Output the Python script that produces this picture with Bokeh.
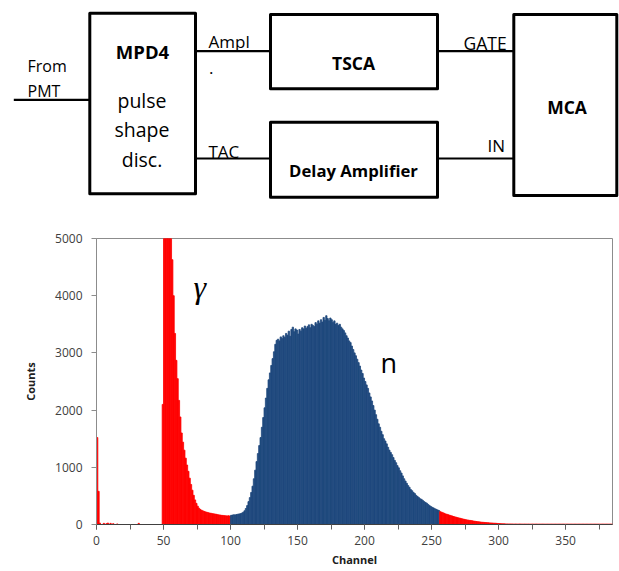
import numpy as np
from bokeh.plotting import figure
from bokeh.models import Range1d, FixedTicker, SingleIntervalTicker, Label
from bokeh.embed import file_html
from bokeh.resources import INLINE

# ---------------- data (counts per channel) ----------------
gamma_low_start = 0
gamma_low = [1520, 580, 25, 0, 0, 20, 0, 15, 25, 0,
             20, 0, 15, 0, 0, 10, 0, 0, 0, 0,
             0, 0, 0, 0, 0, 0, 0, 0, 0, 0,
             0, 20, 0, 0, 0, 0, 0, 0, 0, 0,
             0, 0, 0, 0, 0, 0, 0, 0, 0]
gamma_peak_start = 49
gamma_peak = [2100,
              5600, 6900, 7600, 7300, 6500, 5500, 4630, 4000, 3340, 2870,
              2550, 2170, 1880, 1600, 1440, 1300, 1160, 1040, 930, 810,
              700, 600, 510, 430, 370, 320, 285, 262, 248, 238,
              228, 220, 212, 206, 200, 196, 190, 186, 182, 178,
              172, 168, 164, 160, 158, 155, 152, 150, 153, 148]
neutron_start = 100
neutron = [160, 165, 170, 168, 175, 180, 185, 190, 200, 215,
           240, 280, 330, 400, 470, 560, 670, 800, 950, 1100,
           1240, 1380, 1520, 1700, 1870, 2040, 2210, 2380, 2530, 2650,
           2780, 2900, 3020, 3150, 3220, 3240, 3210, 3280, 3250, 3300,
           3270, 3340, 3310, 3380, 3290, 3410, 3450, 3370, 3420, 3400,
           3330, 3410, 3380, 3440, 3420, 3470, 3430, 3460, 3490, 3440,
           3500, 3480, 3460, 3530, 3500, 3560, 3520, 3580, 3540, 3620,
           3570, 3650, 3600, 3560, 3610, 3580, 3530, 3560, 3500, 3520,
           3480, 3500, 3450, 3420, 3390, 3350, 3300, 3260, 3210, 3180,
           3120, 3060, 3000, 2950, 2890, 2830, 2770, 2700, 2640, 2560,
           2500, 2440, 2380, 2300, 2230, 2160, 2080, 2000, 1920, 1840,
           1760, 1700, 1630, 1570, 1500, 1460, 1410, 1350, 1300, 1260,
           1220, 1170, 1120, 1080, 1030, 990, 940, 900, 850, 800,
           760, 720, 680, 650, 610, 590, 560, 540, 510, 490,
           470, 450, 440, 420, 400, 385, 370, 350, 330, 315,
           300, 290, 275, 265, 255, 245]
gamma_tail_start = 256
gamma_tail = [225, 215, 205, 195, 185, 178, 170, 162, 155, 148,
              140, 133, 126, 120, 114, 108, 102, 96, 90, 85,
              80, 76, 72, 68, 64, 60, 56, 52, 49, 46,
              43, 40, 38, 36, 34, 32, 30, 28, 27, 25,
              23, 22, 20, 18, 16, 15, 13, 12, 11, 10,
              10, 9, 10, 9, 9, 8, 9, 8, 8, 9,
              8, 8, 7, 8, 8, 7, 8, 7, 7, 8,
              7, 7, 8, 7, 7, 7, 8, 7, 7, 7,
              7, 7, 7, 7, 7, 7, 7, 7, 7, 7,
              7, 7, 7, 7, 7, 7, 7, 7, 7, 7,
              7, 7, 7, 7, 7, 7, 7, 7, 7, 7,
              7, 7, 7, 7, 7, 7, 7, 7, 7, 7,
              7, 7, 7, 7, 7, 7, 7, 7, 7]

y_ticks = [0, 1000, 2000, 3000, 4000, 5000]
x_max = 385
y_max = 5000

RED = "#FF0000"
BLUE = "#1F497D"
FONT = "Open Sans"

# ---------------- block diagram ----------------
DW, DH = 619, 210
d = figure(width=DW, height=DH, x_range=Range1d(0, DW), y_range=Range1d(DH, 0),
           output_backend="svg", toolbar_location=None, min_border=0)
d.axis.visible = False
d.grid.visible = False
d.outline_line_color = None
d.background_fill_color = "white"

boxes = {"left": [89.3, 270, 270, 513.3], "right": [195, 437, 437, 616.3],
         "top": [12.7, 14, 121.7, 14], "bottom": [193.3, 88.3, 196.7, 195]}
d.quad(left=boxes["left"], right=boxes["right"], top=boxes["top"], bottom=boxes["bottom"],
       fill_color="white", line_color="black", line_width=3, line_join="round")

wires = [((13.3, 89.3), (99.3, 99.3)), ((195, 270), (50.7, 50.7)), ((195, 270), (158, 158)),
         ((437, 513.3), (50.7, 50.7)), ((437, 513.3), (158, 158))]
for xs, ys in wires:
    d.line(list(xs), list(ys), line_color="black", line_width=2.2)

def dtext(x, y, s, size, bold=False, align="left"):
    d.add_layout(Label(x=x, y=y, text=s, text_font=FONT, text_font_size=size,
                       text_font_style="bold" if bold else "normal", text_color="black",
                       text_align=align, text_baseline="middle"))

dtext(27, 65.5, "From", "16px")
dtext(27, 90.5, "PMT", "16px")
dtext(142, 50.5, "MPD4", "18.5px", True, "center")
dtext(141.5, 99.5, "pulse", "19.5px", align="center")
dtext(141.5, 128.5, "shape", "19.5px", align="center")
dtext(141.5, 158.5, "disc.", "19.5px", align="center")
dtext(208, 41, "Ampl", "17px")
dtext(208.5, 67, ".", "17px")
dtext(208, 151, "TAC", "17px")
dtext(353, 62, "TSCA", "17.5px", True, "center")
dtext(353, 170, "Delay Amplifier", "16.7px", True, "center")
dtext(463, 42.5, "GATE", "17.5px")
dtext(487, 145, "IN", "17px")
dtext(566.5, 106, "MCA", "17.5px", True, "center")

# ---------------- histogram ----------------
h = figure(width=619, height=571 - DH, x_range=Range1d(0, x_max), y_range=Range1d(0, y_max),
           output_backend="svg", toolbar_location=None,
           min_border_left=96, min_border_right=7, min_border_top=28, min_border_bottom=47)
h.grid.visible = False
h.outline_line_color = "#8C8C8C"
h.outline_line_width = 1

segments = [(gamma_low_start, gamma_low, RED), (gamma_peak_start, gamma_peak, RED),
            (neutron_start, neutron, BLUE), (gamma_tail_start, gamma_tail, RED)]
for start, vals, col in segments:
    ch = start + np.arange(len(vals))
    h.quad(left=ch, right=ch + 1, bottom=0, top=np.array(vals, dtype=float),
           fill_color=col, line_color=col, line_width=0.8)

h.yaxis.ticker = FixedTicker(ticks=y_ticks)
h.xaxis.ticker = SingleIntervalTicker(interval=50, num_minor_ticks=2)
for ax in (h.xaxis[0], h.yaxis[0]):
    ax.major_tick_in = 0
    ax.major_tick_out = 5
    ax.minor_tick_in = 0
    ax.major_label_text_font = FONT
    ax.major_label_text_font_size = "12px"
    ax.major_label_text_color = "#404040"
    ax.axis_label_text_font = FONT
    ax.axis_label_text_font_size = "11px"
    ax.axis_label_text_font_style = "bold"
    ax.axis_label_text_color = "#202020"
h.xaxis.minor_tick_out = 5
h.yaxis.minor_tick_out = 0
h.yaxis.axis_line_color = "#8C8C8C"
h.yaxis.major_tick_line_color = "#8C8C8C"
h.xaxis.axis_line_color = "#404040"
h.xaxis.major_tick_line_color = "#606060"
h.xaxis.minor_tick_line_color = "#606060"
h.xaxis.axis_label = "Channel"
h.yaxis.axis_label = "Counts"
h.xaxis.major_label_standoff = 6
h.xaxis.axis_label_standoff = 4
h.yaxis.major_label_standoff = 9
h.yaxis.axis_label_standoff = 14

h.add_layout(Label(x=77.1, y=4150, text="γ", text_font="Liberation Serif",
                   text_font_style="italic", text_font_size="32px", text_color="black",
                   text_align="center", text_baseline="middle"))
h.add_layout(Label(x=218.1, y=2840, text="n", text_font=FONT,
                   text_font_size="27px", text_color="black",
                   text_align="center", text_baseline="middle"))

open("out.html", "w").write(file_html([d, h], INLINE))
